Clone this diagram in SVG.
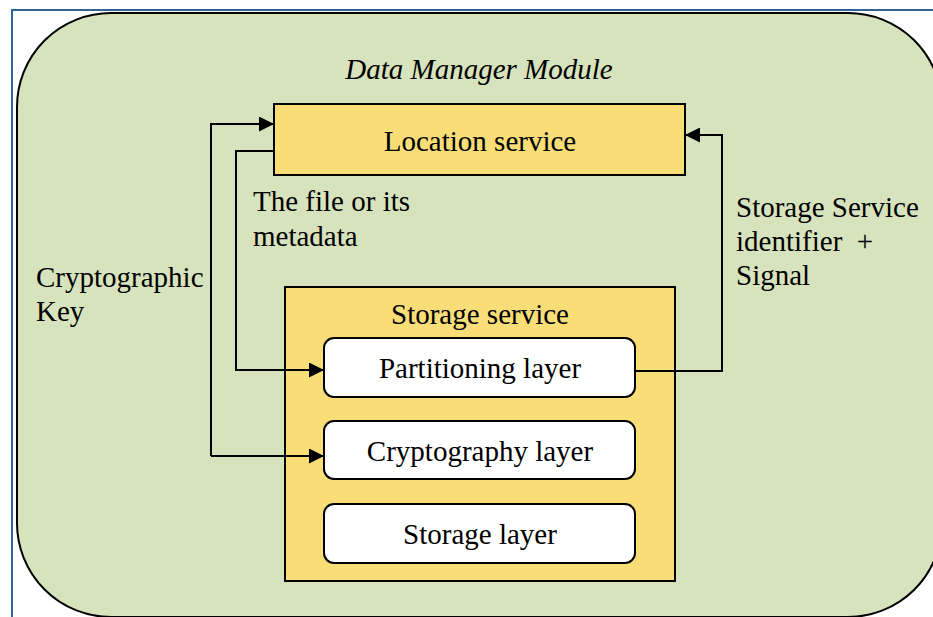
<svg xmlns="http://www.w3.org/2000/svg" width="933" height="617" viewBox="0 0 933 617">
  <style>
    .lbl { font-family: "Liberation Serif", "Times New Roman", serif; font-size: 29px; fill: #000; }
    .mid { text-anchor: middle; }
    .box { fill: #F9DE78; stroke: #000; stroke-width: 2; }
    .layer { fill: #FFFFFF; stroke: #000; stroke-width: 2; }
    .wire { fill: none; stroke: #000; stroke-width: 2; }
  </style>
  <defs>
    <marker id="arrow" viewBox="0 0 10 10" refX="10" refY="5" markerWidth="15" markerHeight="15" markerUnits="userSpaceOnUse" orient="auto">
      <path d="M0,0 L10,5 L0,10 Z" fill="#000"/>
    </marker>
  </defs>

  <rect width="933" height="617" fill="#FFFFFF"/>
  <!-- outer frame -->
  <path d="M12,617 V10 H933" fill="none" stroke="#2F6496" stroke-width="2"/>

  <!-- module container -->
  <g id="data-manager-module">
    <rect x="17" y="13" width="925" height="604" rx="94" ry="94" fill="#D7E3BD" stroke="#000" stroke-width="2"/>
    <text class="lbl mid" x="479" y="79" font-style="italic">Data Manager Module</text>
  </g>

  <g id="location-service">
    <rect class="box" x="274" y="104" width="411" height="71"/>
    <text class="lbl mid" x="480" y="151">Location service</text>
  </g>

  <g id="storage-service">
    <rect class="box" x="285" y="287" width="390" height="294"/>
    <text class="lbl mid" x="480" y="324">Storage service</text>
  </g>

  <g id="partitioning-layer">
    <rect class="layer" x="324" y="338" width="311" height="59" rx="10" ry="10"/>
    <text class="lbl mid" x="480" y="378">Partitioning layer</text>
  </g>

  <g id="cryptography-layer">
    <rect class="layer" x="324" y="421" width="311" height="58" rx="10" ry="10"/>
    <text class="lbl mid" x="480" y="461">Cryptography layer</text>
  </g>

  <g id="storage-layer">
    <rect class="layer" x="324" y="504" width="311" height="59" rx="10" ry="10"/>
    <text class="lbl mid" x="480" y="544">Storage layer</text>
  </g>

  <g id="connectors">
    <!-- cryptographic key: to location service and cryptography layer -->
    <path class="wire" d="M211,456 V124 H274" marker-end="url(#arrow)"/>
    <path class="wire" d="M211,456 H324" marker-end="url(#arrow)"/>
    <!-- file or metadata: location service to partitioning layer -->
    <path class="wire" d="M274,151 H236 V370 H324" marker-end="url(#arrow)"/>
    <!-- storage service identifier + signal back to location service -->
    <path class="wire" d="M635,371 H722 V135 H685" marker-end="url(#arrow)"/>
  </g>

  <g id="connector-labels">
    <text class="lbl" x="36" y="287">Cryptographic</text>
    <text class="lbl" x="36" y="321">Key</text>
    <text class="lbl" x="253" y="211">The file or its</text>
    <text class="lbl" x="253" y="246">metadata</text>
    <text class="lbl" x="736" y="217">Storage Service</text>
    <text class="lbl" x="736" y="251" xml:space="preserve">identifier  +</text>
    <text class="lbl" x="736" y="285">Signal</text>
  </g>
</svg>
